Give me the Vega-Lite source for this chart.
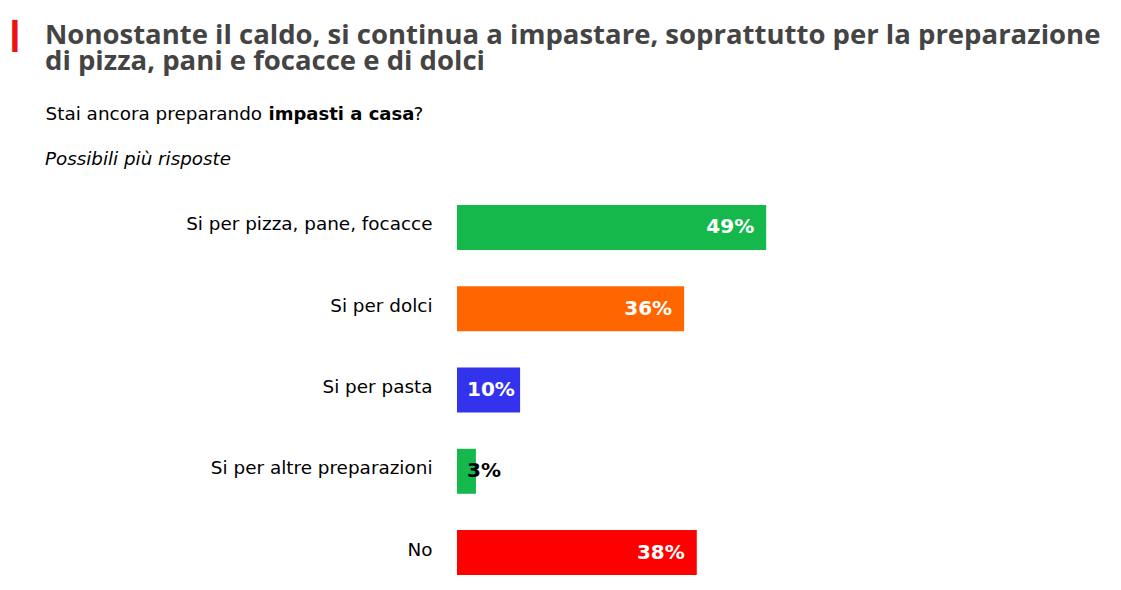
{
  "$schema": "https://vega.github.io/schema/vega-lite/v6.json",
  "width": 631,
  "height": 390,
  "autosize": {"type": "none"},
  "padding": {"left": 457, "top": 195, "right": 33, "bottom": 5},
  "background": "white",
  "config": {"view": {"stroke": null}, "font": "DejaVu Sans"},
  "title": {
    "text": ["Nonostante il caldo, si continua a impastare, soprattutto per la preparazione", "di pizza, pani e focacce e di dolci"],
    "subtitle": "Possibili più risposte",
    "anchor": "start",
    "frame": "group",
    "dx": -412,
    "font": "Open Sans",
    "fontSize": 27.5,
    "fontWeight": "bold",
    "color": "#444444",
    "lineHeight": 25.5,
    "subtitleFont": "DejaVu Sans",
    "subtitleFontSize": 18.3,
    "subtitleFontStyle": "italic",
    "subtitleColor": "#000000",
    "subtitlePadding": 75.5,
    "offset": -146
  },
  "data": {
    "values": [
      {"cat": "Si per pizza, pane, focacce", "value": 49, "label": "49%"},
      {"cat": "Si per dolci", "value": 36, "label": "36%"},
      {"cat": "Si per pasta", "value": 10, "label": "10%"},
      {"cat": "Si per altre preparazioni", "value": 3, "label": "3%"},
      {"cat": "No", "value": 38, "label": "38%"}
    ]
  },
  "resolve": {"axis": {"x": "independent", "y": "independent"}},
  "layer": [
    {
      "mark": {"type": "bar"},
      "encoding": {
        "y": {
          "field": "cat", "type": "nominal", "sort": null,
          "scale": {"paddingInner": 0.447, "paddingOuter": 0.122},
          "axis": {
            "orient": "left", "domain": false, "ticks": false, "labelPadding": 25,
            "labelFont": "DejaVu Sans", "labelFontSize": 18.4, "labelColor": "#000000", "labelLimit": 0,
            "labelOffset": -3,
            "title": "Stai ancora preparando", "titleAngle": 0, "titleAlign": "left", "titleBaseline": "alphabetic",
            "titleX": -412, "titleY": -76, "titleFont": "DejaVu Sans", "titleFontSize": 18.4,
            "titleFontWeight": "normal", "titleColor": "#000000"
          }
        },
        "x": {
          "field": "value", "type": "quantitative",
          "scale": {"domain": [0, 100]},
          "axis": {
            "orient": "bottom", "domain": false, "ticks": false, "labels": false, "grid": false,
            "title": "impasti a casa", "titleAngle": 0, "titleAlign": "left", "titleBaseline": "alphabetic",
            "titleX": -189, "titleY": -466, "titleFont": "DejaVu Sans", "titleFontSize": 18,
            "titleFontWeight": "bold", "titleColor": "#000000"
          }
        },
        "color": {
          "field": "cat", "type": "nominal", "legend": null,
          "scale": {
            "domain": ["Si per pizza, pane, focacce", "Si per dolci", "Si per pasta", "Si per altre preparazioni", "No"],
            "range": ["#15b84b", "#ff6600", "#3333ee", "#15b84b", "#ff0000"]
          }
        }
      }
    },
    {
      "transform": [{"filter": "datum.value >= 15"}],
      "mark": {"type": "text", "align": "right", "baseline": "middle", "dx": -12, "font": "DejaVu Sans", "fontSize": 20, "fontWeight": "bold", "color": "#ffffff"},
      "encoding": {
        "y": {
          "field": "cat", "type": "nominal", "sort": null,
          "axis": {
            "orient": "right", "domain": false, "ticks": false, "labels": false, "grid": false,
            "title": "▎", "titleAngle": 0, "titleAlign": "left", "titleBaseline": "alphabetic",
            "titleX": -1076, "titleY": -151, "titleFont": "DejaVu Sans", "titleFontSize": 27,
            "titleFontWeight": "normal", "titleColor": "#ee1111"
          }
        },
        "x": {
          "field": "value", "type": "quantitative",
          "axis": {
            "orient": "top", "domain": false, "ticks": false, "labels": false, "grid": false,
            "title": "?", "titleAngle": 0, "titleAlign": "left", "titleBaseline": "alphabetic",
            "titleX": -44, "titleY": -76, "titleFont": "DejaVu Sans", "titleFontSize": 18.4,
            "titleFontWeight": "normal", "titleColor": "#000000"
          }
        },
        "text": {"field": "label"}
      }
    },
    {
      "transform": [{"filter": "datum.value < 15"}],
      "mark": {"type": "text", "align": "left", "baseline": "middle", "dx": 10, "font": "DejaVu Sans", "fontSize": 20, "fontWeight": "bold"},
      "encoding": {
        "y": {"field": "cat", "type": "nominal", "sort": null, "axis": null},
        "x": {"datum": 0, "type": "quantitative", "axis": null},
        "text": {"field": "label"},
        "color": {"condition": {"test": "datum.value < 5", "value": "#000000"}, "value": "#ffffff"}
      }
    }
  ]
}
